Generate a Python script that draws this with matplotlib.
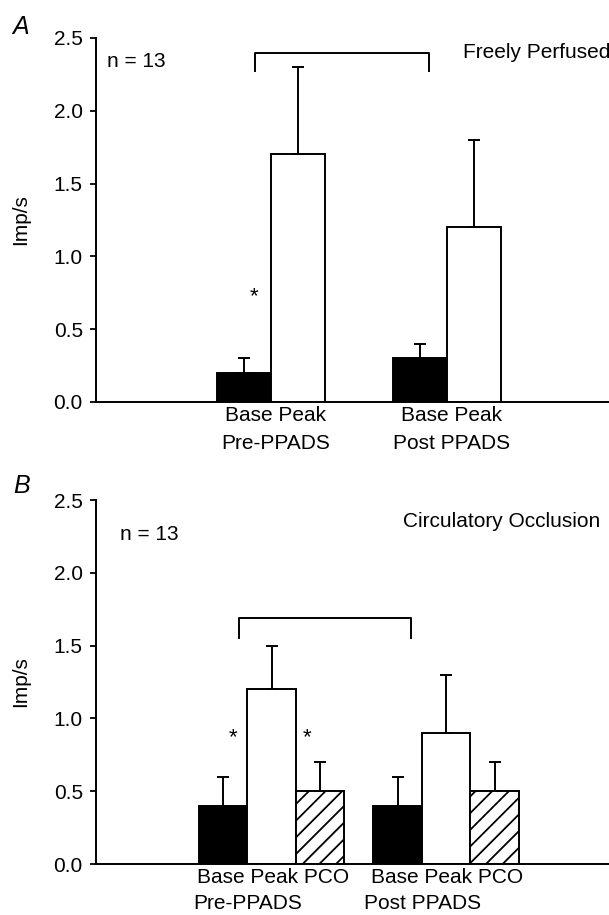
import matplotlib
matplotlib.use("Agg")
import matplotlib.pyplot as plt

plt.rcParams["font.family"] = ["Liberation Sans", "DejaVu Sans"]
plt.rcParams["hatch.linewidth"] = 1.3

# =========================================================
# Data
# =========================================================
a_values = [0.2, 1.7, 0.3, 1.2]
a_errors = [0.1, 0.6, 0.1, 0.6]
a_ticklabel = "Base Peak"
a_groups = ["Pre-PPADS", "Post PPADS"]

b_values = [0.4, 1.2, 0.5, 0.4, 0.9, 0.5]
b_errors = [0.2, 0.3, 0.2, 0.2, 0.4, 0.2]
b_ticklabel = "Base Peak PCO"
b_groups = ["Pre-PPADS", "Post PPADS"]

yticks = [0.0, 0.5, 1.0, 1.5, 2.0, 2.5]

FS = 15


def style_axis(ax, xmax):
    ax.set_xlim(0, xmax)
    ax.set_ylim(0, 2.5)
    ax.spines["top"].set_visible(False)
    ax.spines["right"].set_visible(False)
    ax.spines["left"].set_linewidth(1.4)
    ax.spines["bottom"].set_linewidth(1.4)
    ax.set_yticks(yticks)
    ax.set_yticklabels([f"{v:.1f}" for v in yticks], fontsize=FS)
    ax.tick_params(axis="y", direction="out", length=4.5, width=1.3, pad=5)
    ax.tick_params(axis="x", length=0, pad=3, labelsize=FS)
    ax.set_ylabel("Imp/s", fontsize=FS)
    ax.yaxis.set_label_coords(-0.128, 0.5)


def draw_bars(ax, xs, values, errors, styles, width):
    for x, v, e, (fc, hatch) in zip(xs, values, errors, styles):
        ax.bar(x, v, width=width, color=fc, edgecolor="black",
               linewidth=1.4, hatch=hatch, zorder=2)
        ax.errorbar(x, v, yerr=[[0], [e]], fmt="none", ecolor="black",
                    elinewidth=1.4, capsize=4.3, capthick=1.4, zorder=3)


def bracket(ax, x0, x1, ytop, ylow):
    ax.plot([x0, x0, x1, x1], [ylow, ytop, ytop, ylow], color="black",
            lw=1.4, clip_on=False)


fig = plt.figure(figsize=(6.09, 9.15), dpi=100)

# =========================================================
# Panel A - freely perfused
# =========================================================
axA = fig.add_axes([0.1576, 0.5607, 0.8424, 0.3978])
centersA = [3.24, 6.5]
xsA = [centersA[0] - 0.5, centersA[0] + 0.5, centersA[1] - 0.5, centersA[1] + 0.5]
draw_bars(axA, xsA, a_values, a_errors,
          [("black", None), ("white", None)] * 2, 1.0)
style_axis(axA, 9.5)
axA.set_xticks([c + 0.09 for c in centersA])
axA.set_xticklabels([a_ticklabel] * 2)
for c, g in zip(centersA, a_groups):
    axA.text(c + 0.09, -0.282, g, ha="center", va="center", fontsize=FS,
             clip_on=False)
bracket(axA, 2.94, 6.17, 2.40, 2.27)
axA.text(2.93, 0.72, "*", ha="center", va="center", fontsize=16)
axA.text(0.2, 2.335, "n = 13", ha="left", va="center", fontsize=FS)
axA.text(6.8, 2.397, "Freely Perfused", ha="left", va="center", fontsize=FS,
         clip_on=False)
fig.text(0.0345, 0.9705, "A", fontsize=18, style="italic", ha="center", va="center")

# =========================================================
# Panel B - circulatory occlusion
# =========================================================
axB = fig.add_axes([0.1576, 0.0557, 0.8424, 0.3978])
centersB = [3.62, 7.22]
xsB = []
for c in centersB:
    xsB += [c - 1, c, c + 1]
draw_bars(axB, xsB, b_values, b_errors,
          [("black", None), ("white", None), ("white", "//")] * 2, 1.0)
style_axis(axB, 10.58)
axB.set_xticks([c + 0.03 for c in centersB])
axB.set_xticklabels([b_ticklabel] * 2)
for c, g in zip(centersB, b_groups):
    axB.text(c - 0.49, -0.268, g, ha="center", va="center", fontsize=FS,
             clip_on=False)
bracket(axB, 2.95, 6.49, 1.69, 1.55)
axB.text(2.82, 0.87, "*", ha="center", va="center", fontsize=16)
axB.text(4.35, 0.87, "*", ha="center", va="center", fontsize=16)
axB.text(0.495, 2.26, "n = 13", ha="left", va="center", fontsize=FS)
axB.text(6.33, 2.35, "Circulatory Occlusion", ha="left", va="center",
         fontsize=FS, clip_on=False)
fig.text(0.036, 0.469, "B", fontsize=18, style="italic", ha="center", va="center")

fig.savefig("out.png", dpi=100)
